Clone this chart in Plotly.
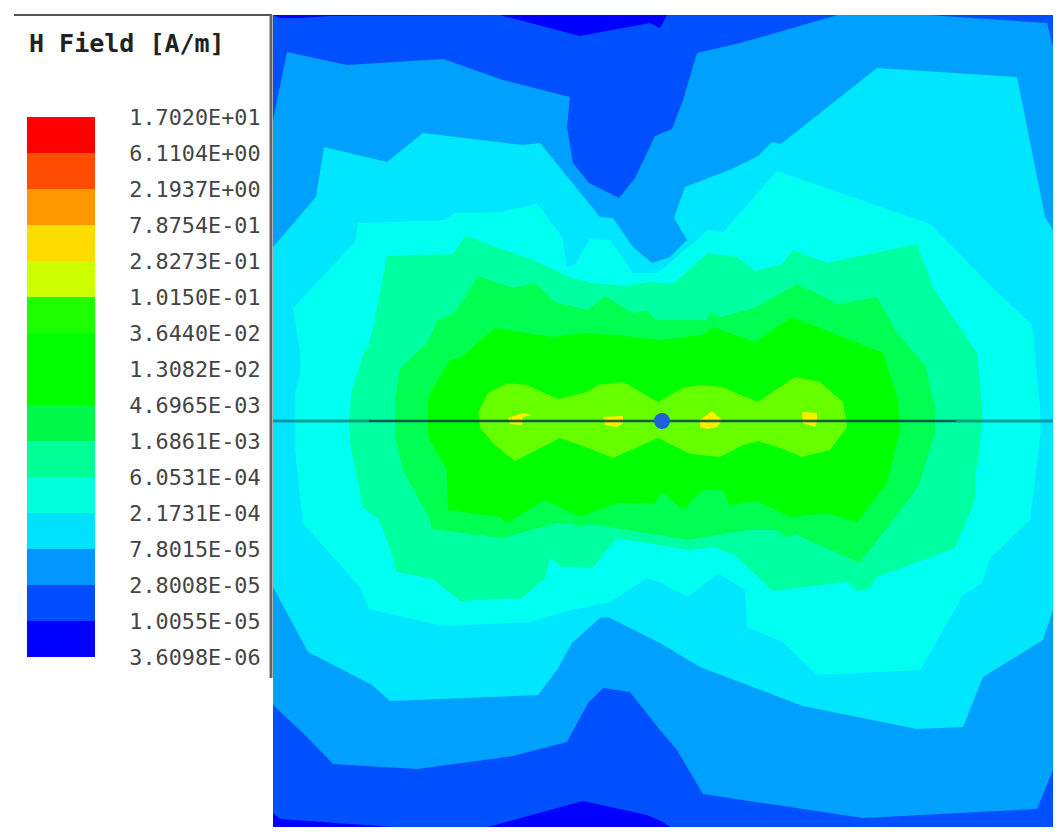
import plotly.graph_objects as go

# legend values, bottom to top
legend_labels = ['3.6098E-06', '1.0055E-05', '2.8008E-05', '7.8015E-05', '2.1731E-04',
                 '6.0531E-04', '1.6861E-03', '4.6965E-03', '1.3082E-02', '3.6440E-02',
                 '1.0150E-01', '2.8273E-01', '7.8754E-01', '2.1937E+00', '6.1104E+00',
                 '1.7020E+01']
legend_colors = ['#0000ff', '#004dff', '#0095ff', '#00e0ff', '#00ffdc', '#00ff96', '#00f84a',
                 '#00ff00', '#00ff00', '#1eff00', '#ccff00', '#ffdc00', '#ff9700', '#ff4d00',
                 '#ff0000']

# field contours, outermost first
band_0 = [(273, 15), (1053, 15), (1053, 827), (273, 827)]

band_1 = [(273, 15), (280, 18), (300, 18), (330, 16), (500, 15), (580, 36), (650, 23), (660, 28),
          (667, 15), (1053, 15), (1053, 827), (670, 827), (663, 822), (647, 815), (583, 801),
          (488, 827), (393, 827), (280, 819), (273, 813)]

band_2 = [(273, 120), (287, 52), (347, 65), (443, 59), (503, 80), (570, 97), (567, 127), (573, 163),
          (589, 183), (619, 198), (635, 178), (655, 136), (672, 129), (683, 100), (697, 53),
          (740, 43), (838, 15), (927, 15), (1047, 23), (1053, 47), (1053, 770), (1037, 809),
          (863, 818), (703, 794), (677, 750), (660, 730), (630, 692), (603, 688), (588, 703),
          (567, 742), (513, 756), (417, 769), (333, 764), (307, 737), (273, 705)]

band_3 = [(273, 247), (316, 197), (324, 147), (387, 162), (423, 133), (523, 145), (540, 143),
          (570, 180), (600, 217), (613, 218), (633, 247), (652, 263), (670, 257), (687, 240),
          (674, 218), (685, 187), (732, 169), (758, 156), (772, 142), (781, 144), (877, 68),
          (1017, 77), (1045, 217), (1053, 230), (1053, 610), (1043, 640), (983, 677), (963, 727),
          (917, 729), (803, 706), (700, 667), (660, 643), (608, 617), (600, 618), (572, 643),
          (557, 670), (538, 695), (390, 701), (372, 685), (308, 652), (273, 587)]

band_4 = [(293, 308), (355, 242), (358, 223), (445, 220), (455, 213), (500, 212), (537, 204),
          (562, 237), (567, 267), (575, 265), (590, 239), (610, 240), (633, 273), (658, 273),
          (670, 263), (708, 230), (723, 232), (777, 171), (930, 224), (995, 290), (1032, 325),
          (1040, 407), (1041, 430), (1030, 520), (990, 558), (982, 583), (963, 595), (920, 670),
          (817, 675), (783, 642), (747, 627), (745, 590), (718, 573), (688, 597), (660, 582),
          (647, 578), (610, 602), (570, 610), (530, 622), (443, 626), (369, 609), (360, 587),
          (303, 523), (295, 450), (295, 393), (300, 373), (300, 350)]

band_5 = [(375, 320), (387, 256), (453, 254), (465, 236), (533, 260), (567, 276), (590, 283),
          (625, 286), (650, 282), (673, 284), (708, 253), (737, 257), (755, 271), (782, 264),
          (793, 250), (827, 263), (917, 244), (933, 287), (960, 328), (977, 353), (982, 407),
          (982, 423), (978, 463), (975, 472), (975, 500), (960, 537), (955, 548), (877, 577),
          (870, 589), (857, 591), (848, 582), (773, 591), (735, 555), (713, 547), (688, 550),
          (660, 545), (617, 538), (592, 568), (562, 567), (550, 558), (545, 578), (522, 598),
          (460, 601), (433, 579), (397, 572), (388, 543), (379, 520), (363, 507), (350, 443),
          (349, 417), (352, 390), (364, 352), (369, 345)]

band_6 = [(438, 320), (453, 314), (463, 300), (478, 276), (513, 288), (535, 283), (555, 302),
          (587, 310), (605, 296), (633, 313), (647, 310), (655, 320), (707, 320), (710, 312),
          (720, 317), (755, 308), (797, 284), (838, 304), (877, 297), (897, 333), (925, 365),
          (935, 407), (935, 433), (918, 487), (893, 520), (860, 563), (797, 535), (785, 537),
          (778, 530), (747, 530), (687, 540), (660, 535), (588, 524), (580, 527), (570, 523),
          (557, 523), (503, 538), (432, 529), (430, 520), (403, 470), (395, 437), (395, 400),
          (400, 369), (427, 343)]

band_7 = [(428, 397), (428, 437), (447, 470), (448, 510), (500, 517), (507, 523), (545, 500),
          (580, 517), (617, 503), (655, 503), (662, 492), (683, 510), (703, 490), (722, 489),
          (730, 505), (757, 501), (790, 517), (827, 513), (857, 522), (887, 483), (895, 450),
          (900, 430), (898, 400), (883, 353), (792, 317), (755, 342), (713, 327), (702, 335),
          (660, 340), (617, 335), (583, 333), (553, 337), (495, 328), (460, 358), (450, 360)]

band_8 = [(478, 413), (488, 393), (508, 383), (527, 385), (558, 399), (587, 392), (598, 385),
          (623, 382), (658, 402), (683, 388), (700, 385), (722, 387), (758, 402), (795, 377),
          (820, 382), (843, 402), (847, 427), (830, 450), (802, 457), (780, 448), (758, 441),
          (743, 445), (720, 457), (700, 455), (688, 453), (658, 438), (613, 458), (588, 448),
          (560, 438), (515, 461), (495, 445), (480, 428)]

hot_1 = [(508, 418), (523, 413), (532, 415), (523, 417), (522, 425), (510, 424)]
hot_2 = [(603, 417), (623, 416), (623, 423), (617, 427), (605, 425)]
hot_3 = [(700, 420), (712, 411), (722, 420), (717, 427), (707, 429), (700, 427)]
hot_4 = [(802, 412), (817, 413), (817, 422), (815, 427), (803, 423)]

# the antenna: full width plane, wire and feed point
plane_x = [273, 1053]
wire_x = [369, 956]
antenna_y = 421
feed_x = 662

bands = [(band_0, '#0000ff'), (band_1, '#0050ff'), (band_2, '#00a0ff'), (band_3, '#00e6ff'),
         (band_4, '#00fff0'), (band_5, '#00ffa0'), (band_6, '#00ff50'), (band_7, '#00ff00'),
         (band_8, '#66ff00'), (hot_1, '#ffee00'), (hot_2, '#ffee00'), (hot_3, '#ffee00'),
         (hot_4, '#ffee00')]

# the page has an 8px body margin, so keep the figure inside the window
OFF = 8
W, H = 1047, 823

def px(x):
    return (x-OFF)/W

def py(y):
    return 1-(y-OFF)/H

fig = go.Figure()

for pts, col in bands:
    fig.add_trace(go.Scatter(
        x=[p[0] for p in pts], y=[p[1] for p in pts],
        mode='lines', fill='toself', fillcolor=col,
        line=dict(width=0, color=col), hoverinfo='skip', showlegend=False
    ))

fig.add_trace(go.Scatter(
    x=plane_x, y=[antenna_y]*2, mode='lines',
    line=dict(color='rgba(0,90,90,0.55)', width=3), hoverinfo='skip', showlegend=False
))
fig.add_trace(go.Scatter(
    x=wire_x, y=[antenna_y]*2, mode='lines',
    line=dict(color='rgba(10,50,60,0.6)', width=2), hoverinfo='skip', showlegend=False
))
fig.add_trace(go.Scatter(
    x=[feed_x], y=[antenna_y], mode='markers',
    marker=dict(color='#1f5fd8', size=16), hoverinfo='skip', showlegend=False
))

# colour key as a one column heatmap
n = len(legend_colors)
fig.add_trace(go.Heatmap(
    x=[0, 1], y=list(range(n+1)),
    z=[[i] for i in range(n)],
    zmin=0, zmax=n-1,
    colorscale=[[i/(n-1), c] for i, c in enumerate(legend_colors)],
    showscale=False, hoverinfo='skip',
    xaxis='x2', yaxis='y2'
))

fig.update_layout(
    width=W, height=H,
    margin=dict(l=0, r=0, t=0, b=0, autoexpand=False),
    paper_bgcolor='white', plot_bgcolor='white',
    showlegend=False,
    xaxis=dict(domain=[px(273), px(1053)], range=[273, 1053], visible=False),
    yaxis=dict(domain=[py(827), py(15)], range=[827, 15], visible=False),
    xaxis2=dict(domain=[px(27), px(95)], range=[0, 1], visible=False, anchor='y2'),
    yaxis2=dict(
        domain=[py(657), py(117)], range=[0, n], anchor='x2', side='right',
        tickmode='array', tickvals=list(range(n+1)), ticktext=legend_labels,
        ticks='outside', ticklen=29, tickcolor='rgba(0,0,0,0)',
        showgrid=False, zeroline=False, showline=False,
        tickfont=dict(family='DejaVu Sans Mono', size=21.8, color='#444444')
    ),
    annotations=[dict(
        text='<b>H Field [A/m]</b>', xref='paper', yref='paper',
        x=px(27), y=py(43), xanchor='left', yanchor='middle', showarrow=False,
        font=dict(family='DejaVu Sans Mono', size=25, color='#222222')
    )],
    shapes=[
        dict(type='line', xref='paper', yref='paper', x0=px(14), x1=px(272), y0=py(15), y1=py(15),
             line=dict(color='#555555', width=2)),
        dict(type='line', xref='paper', yref='paper', x0=px(271), x1=px(271), y0=py(15), y1=py(678),
             line=dict(color='#666666', width=3)),
    ]
)

fig.write_html("out.html")
